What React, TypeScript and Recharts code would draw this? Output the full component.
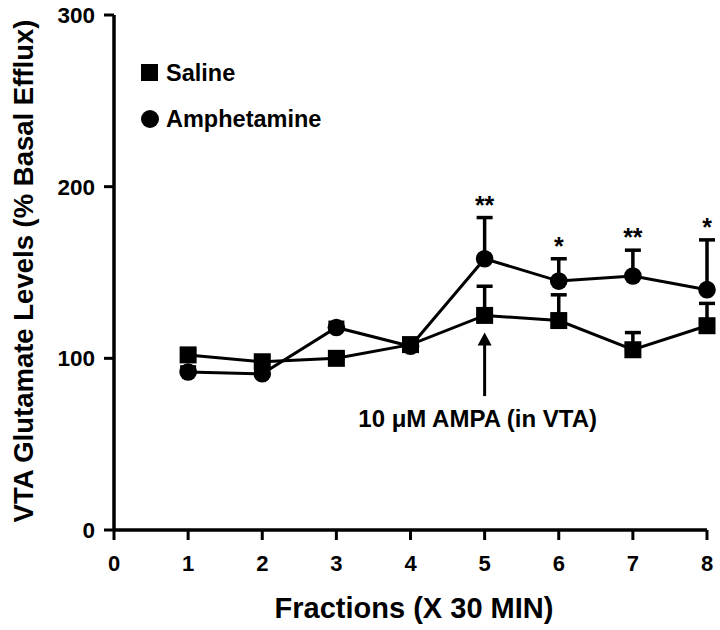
import React from 'react';
import {
  ComposedChart,
  Line,
  XAxis,
  YAxis,
  ErrorBar,
  ReferenceDot,
  ReferenceLine,
  Legend,
} from 'recharts';

const fractions = [1, 2, 3, 4, 5, 6, 7, 8];
const salineMean = [102, 98, 100, 108, 125, 122, 105, 119];
const salineSem = [3, 3, 3, 3, 17, 15, 10, 13];
const amphMean = [92, 91, 118, 107, 158, 145, 148, 140];
const amphSem = [3, 3, 3, 3, 24, 13, 15, 29];
const significance = ['', '', '', '', '**', '*', '**', '*'];
const xTicks = [0, 1, 2, 3, 4, 5, 6, 7, 8];
const yTicks = [0, 100, 200, 300];
const arrowFraction = 5;
const arrowFrom = 78;
const arrowTo = 115;
const annotationText = '10 \u03bcM AMPA (in VTA)';

const data = fractions.map((f, i) => ({
  fraction: f,
  saline: salineMean[i],
  salineErr: [0, salineSem[i]],
  amph: amphMean[i],
  amphErr: [0, amphSem[i]],
}));

const FONT = '"Liberation Sans", Arial, Helvetica, sans-serif';

const SquareDot = (props: any) => {
  const { cx, cy } = props;
  if (cx == null || cy == null) return null;
  return <rect x={cx - 8.5} y={cy - 8.5} width={17} height={17} fill="#000" />;
};

const CircleDot = (props: any) => {
  const { cx, cy } = props;
  if (cx == null || cy == null) return null;
  return <circle cx={cx} cy={cy} r={8.8} fill="#000" />;
};

const ArrowShape = (props: any) => {
  const { x1, y1, x2, y2 } = props;
  if (x1 == null) return null;
  const top = Math.min(y1, y2);
  const bottom = Math.max(y1, y2);
  return (
    <g>
      <line x1={x1} y1={bottom} x2={x2} y2={top + 8} stroke="#000" strokeWidth={3} />
      <polygon points={`${x1},${top} ${x1 - 7},${top + 13} ${x1 + 7},${top + 13}`} fill="#000" />
      <text
        x={x1 - 7}
        y={bottom + 31}
        textAnchor="middle"
        fontFamily={FONT}
        fontWeight={700}
        fontSize={24}
        fill="#000"
      >
        {annotationText}
      </text>
    </g>
  );
};

const LegendContent = () => (
  <div style={{ fontFamily: FONT, fontWeight: 700, fontSize: 23.5, color: '#000' }}>
    <div style={{ display: 'flex', alignItems: 'center', height: 26, marginBottom: 20 }}>
      <svg width={26} height={26}>
        <rect x={1} y={4} width={17} height={17} fill="#000" />
      </svg>
      <span>Saline</span>
    </div>
    <div style={{ display: 'flex', alignItems: 'center', height: 26 }}>
      <svg width={26} height={26}>
        <circle cx={10} cy={13} r={9} fill="#000" />
      </svg>
      <span>Amphetamine</span>
    </div>
  </div>
);

export default function App() {
  return (
    <div style={{ position: 'absolute', left: 0, top: 0, background: '#fff' }}>
      <ComposedChart
        width={720}
        height={630}
        data={data}
        margin={{ top: 15, right: 13, left: 0, bottom: 0 }}
      >
        <XAxis
          dataKey="fraction"
          type="number"
          domain={[0, 8]}
          ticks={xTicks}
          height={100}
          tickSize={10}
          tickMargin={15}
          axisLine={{ stroke: '#000', strokeWidth: 3.5 }}
          tickLine={{ stroke: '#000', strokeWidth: 3 }}
          tick={{ fill: '#000', fontFamily: FONT, fontWeight: 700, fontSize: 22 }}
          label={(p: any) => (
            <text
              x={414}
              y={618}
              textAnchor="middle"
              fontFamily={FONT}
              fontWeight={700}
              fontSize={29}
              fill="#000"
            >
              Fractions (X 30 MIN)
            </text>
          )}
        />
        <YAxis
          type="number"
          domain={[0, 300]}
          ticks={yTicks}
          width={114}
          tickSize={10}
          tickMargin={9}
          axisLine={{ stroke: '#000', strokeWidth: 3.5 }}
          tickLine={{ stroke: '#000', strokeWidth: 3 }}
          tick={{ fill: '#000', fontFamily: FONT, fontWeight: 700, fontSize: 22.5 }}
          label={(p: any) => (
            <text
              x={33}
              y={271}
              transform="rotate(-90 33 271)"
              textAnchor="middle"
              fontFamily={FONT}
              fontWeight={700}
              fontSize={27.5}
              fill="#000"
            >
              VTA Glutamate Levels (% Basal Efflux)
            </text>
          )}
        />
        <Legend
          layout="vertical"
          align="center"
          verticalAlign="middle"
          wrapperStyle={{ left: 140, top: 60, width: 260, height: 80 }}
          content={<LegendContent />}
        />
        <ReferenceLine
          segment={[
            { x: arrowFraction, y: arrowFrom },
            { x: arrowFraction, y: arrowTo },
          ]}
          shape={<ArrowShape />}
          ifOverflow="visible"
        />
        <Line
          dataKey="amph"
          stroke="#000"
          strokeWidth={3}
          dot={<CircleDot />}
          isAnimationActive={false}
          legendType="circle"
        >
          <ErrorBar dataKey="amphErr" width={8} stroke="#000" strokeWidth={3.5} direction="y" />
        </Line>
        <Line
          dataKey="saline"
          stroke="#000"
          strokeWidth={3}
          dot={<SquareDot />}
          isAnimationActive={false}
          legendType="square"
        >
          <ErrorBar dataKey="salineErr" width={8} stroke="#000" strokeWidth={3.5} direction="y" />
        </Line>
        {fractions.map((f, i) =>
          significance[i] ? (
            <ReferenceDot
              key={f}
              x={f}
              y={amphMean[i] + amphSem[i]}
              r={0}
              fill="none"
              stroke="none"
              ifOverflow="visible"
              label={{
                value: significance[i],
                position: 'top',
                offset: 4,
                fill: '#000',
                fontFamily: FONT,
                fontWeight: 700,
                fontSize: 25,
              }}
            />
          ) : null
        )}
      </ComposedChart>
    </div>
  );
}
